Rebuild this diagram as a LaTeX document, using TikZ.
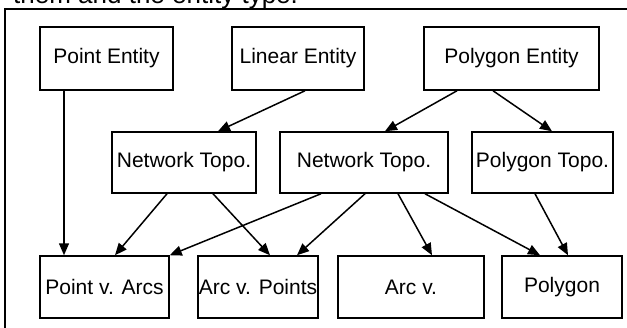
\documentclass[tikz,border=0pt]{standalone}
\usepackage{fontspec}
\setmainfont{Liberation Sans}
\usetikzlibrary{arrows.meta}
\begin{document}
\begin{tikzpicture}[x=1pt,y=-1pt,
		rect/.style={shape=rectangle, draw=black, line width=1.5pt, inner sep=0pt, font=\fontsize{21}{25}\selectfont},
		link/.style={-{Triangle[length=12pt,width=10pt]}, line width=1.5pt}]
		\clip (0,0) rectangle (627,327);
		\node (cap) at (13,3) [anchor=base west, inner sep=0pt, font=\fontsize{26}{30}\selectfont] {them and the entity type.};
		\draw[line width=2pt] (5,9) rectangle (660,360);
		% entities
		\node (pe) at (106.5,58.5) [rect, minimum width=133pt, minimum height=63pt] {Point Entity};
		\node (le) at (298,58.5) [rect, minimum width=132pt, minimum height=63pt] {Linear Entity};
		\node (poe) at (511.5,58.5) [rect, minimum width=175pt, minimum height=63pt] {Polygon Entity};
		% topologies
		\node (nt1) at (184,162.5) [rect, minimum width=144pt, minimum height=61pt] {Network Topo.};
		\node (nt2) at (364,162.5) [rect, minimum width=168pt, minimum height=61pt] {Network Topo.};
		\node (pt) at (542.5,162.5) [rect, minimum width=141pt, minimum height=61pt] {Polygon Topo.};
		% relations
		\node (pa) at (104.5,287) [rect, minimum width=129pt, minimum height=62pt] {Point v. Arcs};
		\node (ap) at (258,287) [rect, minimum width=120pt, minimum height=62pt] {Arc v. Points};
		\node (av) at (411,287) [rect, minimum width=146pt, minimum height=62pt] {Arc v.};
		\node (po) at (562,287) [rect, minimum width=120pt, minimum height=62pt] {Polygon};
		% links
		\draw[link] ([xshift=-42.5pt]pe.south) -- ([xshift=-40.5pt]pa.north);
		\draw[link] ([xshift=7pt]le.south) -- ([xshift=34pt]nt1.north);
		\draw[link] ([xshift=-54.5pt]poe.south) -- ([xshift=21pt]nt2.north);
		\draw[link] ([xshift=-18.5pt]poe.south) -- ([xshift=9.5pt]pt.north);
		\draw[link] ([xshift=-17pt]nt1.south) -- ([xshift=10.5pt]pa.north);
		\draw[link] ([xshift=29pt]nt1.south) -- ([xshift=12pt]ap.north);
		\draw[link] ([xshift=-43pt]nt2.south) -- (pa.north east);
		\draw[link] ([xshift=1pt]nt2.south) -- ([xshift=39pt]ap.north);
		\draw[link] ([xshift=34pt]nt2.south) -- ([xshift=21pt]av.north);
		\draw[link] ([xshift=61pt]nt2.south) -- ([xshift=-22pt]po.north);
		\draw[link] ([xshift=-7.5pt]pt.south) -- ([xshift=6pt]po.north);
\end{tikzpicture}
\end{document}
